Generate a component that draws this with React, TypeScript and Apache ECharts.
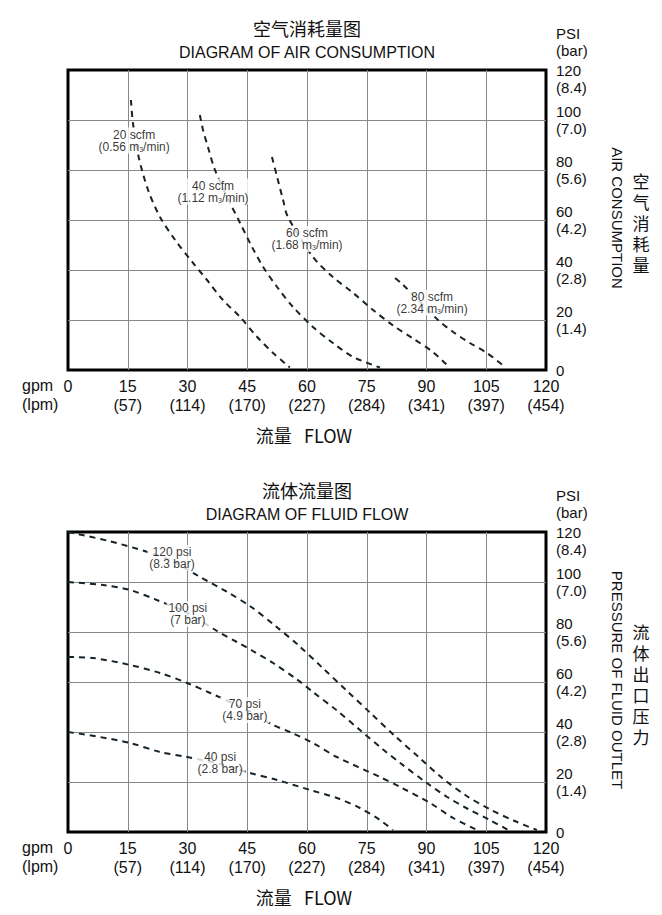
import React, { useEffect, useRef } from "react";
import * as echarts from "echarts";

// ---- tick labels ----
const gpmTicks = [0, 15, 30, 45, 60, 75, 90, 105, 120];
const lpmTicks = ["", "(57)", "(114)", "(170)", "(227)", "(284)", "(341)", "(397)", "(454)"];
const psiTicks = [0, 20, 40, 60, 80, 100, 120];
const barTicks = ["", "(1.4)", "(2.8)", "(4.2)", "(5.6)", "(7.0)", "(8.4)"];

// ---- air consumption curves [gpm, psi] ----
const air20 = [[15.8, 108], [16.3, 98.8], [17.8, 84.8], [20.1, 72], [23.1, 61.2], [26.9, 52], [31.4, 42.8], [34.9, 36], [38.9, 28], [43.2, 21.2], [47.5, 13.2], [51.5, 6.8], [55.7, 1]];
const air40 = [[33.1, 102], [33.9, 96], [35.2, 88.8], [36.9, 80], [40.7, 66.8], [43.2, 58.8], [46.2, 49.2], [49.0, 41.2], [52.5, 33.2], [56.5, 25.2], [61.5, 17.2], [66.5, 10.8], [71.6, 5.2], [78.3, 1]];
const air60 = [[51.2, 85.2], [52.5, 77.2], [54.0, 68], [55.2, 61.2], [61.5, 45.2], [66.5, 37.2], [71.6, 30.8], [76.6, 24], [81.6, 17.8], [86.6, 12.6], [91.6, 7.2], [95.4, 1.6]];
const air80 = [[82.1, 36.8], [83.9, 34.4], [88.5, 27], [92.9, 20], [96.7, 15.2], [100.9, 10.8], [105.2, 6.8], [109.7, 1.2]];
const airLabelNames = ["20 scfm", "40 scfm", "60 scfm", "80 scfm"];
const airLabelM3 = ["0.56", "1.12", "1.68", "2.34"];
const airLabelPos = [[16.6, 91.8], [36.4, 71.4], [60, 52.4], [91.4, 27]];

// ---- fluid flow curves [gpm, psi] ----
const fluid120 = [[0, 120], [10, 116.5], [20, 112], [26, 108.5], [32.6, 102.5], [40, 96], [46, 90], [52, 82.5], [58, 74.5], [64, 65.5], [70, 56.5], [76, 47.5], [82, 38.5], [88, 30], [94, 21.5], [100, 14.5], [106, 9], [112, 4.5], [117.7, 0.8]];
const fluid100 = [[0, 100], [8.8, 98.8], [15.6, 96.8], [22.3, 92.8], [30.1, 87.5], [37.4, 80.4], [42.4, 76], [46.4, 72.4], [51.5, 67.6], [57.5, 61], [61.5, 56], [67.5, 48.6], [73.3, 40.8], [79.1, 33], [83.4, 27.6], [90.1, 19.6], [95.2, 14], [100.2, 9.4], [105.9, 4.8], [110.5, 0.8]];
const fluid70 = [[0, 70], [6.3, 69.6], [15.6, 66.8], [23.1, 63.6], [29.9, 59.6], [35.7, 55.6], [44.4, 49.2], [51.5, 42.8], [55.7, 40], [61.5, 35.6], [67.5, 30], [78.3, 22], [83.4, 18], [90.9, 11.6], [96.7, 5.6], [102.7, 0.8]];
const fluid40 = [[0, 40], [8.0, 38], [15.6, 35.6], [23.1, 32], [29.9, 30], [38.2, 27.2], [45.7, 23.6], [52.5, 20.8], [60.8, 16.8], [67.5, 13.6], [73.3, 9.6], [78.3, 4.8], [81.6, 0.8]];
const fluidLabelNames = ["120 psi", "100 psi", "70 psi", "40 psi"];
const fluidLabelBar = ["(8.3 bar)", "(7 bar)", "(4.9 bar)", "(2.8 bar)"];
const fluidLabelPos = [[26.1, 109.6], [30.1, 87.2], [44.4, 48.8], [38.2, 27.6]];

const FONT = "'Liberation Sans', Arial, Helvetica, 'Noto Sans CJK SC', sans-serif";
const CJK = "'Noto Sans CJK SC', 'Liberation Sans', sans-serif";
const INK = "#111";
const CURVE = "#15232a";
const GRID_TOPS = [70, 532];
const GRID_LEFT = 68;
const GRID_W = 478;
const GRID_H = 300;

function xAxis(gridIndex: number) {
  return {
    type: "value",
    gridIndex,
    min: 0,
    max: 120,
    interval: 15,
    axisLine: { show: false },
    axisTick: { show: false },
    splitLine: { show: true, showMinLine: false, showMaxLine: false, lineStyle: { color: "#888", width: 1 } },
    axisLabel: {
      margin: 7,
      fontSize: 16,
      lineHeight: 19,
      color: INK,
      fontFamily: FONT,
      formatter: (v: number) => {
        const i = gpmTicks.indexOf(v);
        const l = i >= 0 ? lpmTicks[i] : "";
        return l ? `${v}\n${l}` : `${v}\n `;
      },
    },
  };
}

function yAxis(gridIndex: number) {
  return {
    type: "value",
    gridIndex,
    position: "right",
    min: 0,
    max: 120,
    interval: 20,
    axisLine: { show: false },
    axisTick: { show: false },
    splitLine: { show: true, showMinLine: false, showMaxLine: false, lineStyle: { color: "#888", width: 1 } },
    axisLabel: {
      margin: 10,
      fontSize: 15,
      lineHeight: 17,
      color: INK,
      fontFamily: FONT,
      formatter: (v: number) => {
        const i = psiTicks.indexOf(v);
        const b = i >= 0 ? barTicks[i] : "";
        if (!b) return `${v}`;
        if (v === 120) return `\n${v}\n${b}`;
        return `${v}\n${b}`;
      },
    },
  };
}

function curve(data: number[][], idx: number) {
  return {
    type: "line",
    xAxisIndex: idx,
    yAxisIndex: idx,
    data,
    symbol: "none",
    showSymbol: false,
    smooth: 0.3,
    silent: true,
    z: 2,
    lineStyle: { color: CURVE, width: 2, type: [6, 5] },
  };
}

function txt(text: string, x: number, y: number, size: number, opts: any = {}) {
  return {
    type: "text",
    x,
    y,
    rotation: opts.rotation || 0,
    style: {
      text,
      fill: INK,
      fontSize: size,
      fontFamily: opts.cjk ? CJK : FONT,
      align: opts.align || "center",
      verticalAlign: "middle",
      lineHeight: opts.lineHeight,
    },
  };
}

export default function App() {
  const ref = useRef<HTMLDivElement>(null);
  useEffect(() => {
    if (!ref.current) return;
    const chart = echarts.init(ref.current, undefined, { renderer: "svg" });

    const labelStyle = {
      show: true,
      position: "inside",
      fontSize: 12,
      lineHeight: 12,
      color: "#000",
      textBorderWidth: 0,
      textBorderColor: "transparent",
      fontFamily: FONT,
      backgroundColor: "#fff",
      padding: [1, 2, 1, 2],
      rich: { s: { fontSize: 7, lineHeight: 12, verticalAlign: "bottom", color: "#000", textBorderWidth: 0 } },
    };

    const graphics: any[] = [];
    const titlesCn = ["空气消耗量图", "流体流量图"];
    const titlesEn = ["DIAGRAM OF AIR CONSUMPTION", "DIAGRAM OF FLUID FLOW"];
    const sideEn = ["AIR CONSUMPTION", "PRESSURE OF FLUID OUTLET"];
    const sideCn = ["空气消耗量", "流体出口压力"];
    GRID_TOPS.forEach((top, i) => {
      const cx = GRID_LEFT + GRID_W / 2;
      graphics.push(txt(titlesCn[i], cx, top - 42, 18, { cjk: true }));
      graphics.push(txt(titlesEn[i], cx, top - 18, 16));
      graphics.push(txt("PSI", 556, top - 37, 15, { align: "left" }));
      graphics.push(txt("(bar)", 556, top - 20, 15, { align: "left" }));
      graphics.push(txt(sideEn[i], 617, top + 148, 15, { rotation: -Math.PI / 2 }));
      const chars = sideCn[i].split("");
      const y0 = top + 152 - ((chars.length - 1) * 21) / 2;
      chars.forEach((c, k) => graphics.push(txt(c, 641, y0 + k * 21, 17, { cjk: true })));
      graphics.push(txt("gpm", 22, top + GRID_H + 15, 16, { align: "left" }));
      graphics.push(txt("(lpm)", 22, top + GRID_H + 34, 16, { align: "left" }));
      graphics.push(txt("流量   FLOW", cx - 3, top + GRID_H + 65, 18, { cjk: true }));
    });

    const option: any = {
      animation: false,
      backgroundColor: "#fff",
      grid: GRID_TOPS.map((top) => ({
        left: GRID_LEFT,
        top,
        width: GRID_W,
        height: GRID_H,
        show: true,
        borderColor: "#000",
        borderWidth: 3,
        backgroundColor: "transparent",
        containLabel: false,
      })),
      xAxis: [xAxis(0), xAxis(1)],
      yAxis: [yAxis(0), yAxis(1)],
      graphic: graphics,
      series: [
        curve(air20, 0),
        curve(air40, 0),
        curve(air60, 0),
        curve(air80, 0),
        {
          type: "scatter",
          xAxisIndex: 0,
          yAxisIndex: 0,
          symbolSize: 0,
          silent: true,
          z: 5,
          itemStyle: { color: "#000" },
          data: airLabelPos.map((p, i) => ({ value: p, name: airLabelNames[i] })),
          label: {
            ...labelStyle,
            formatter: (p: any) => `${airLabelNames[p.dataIndex]}\n(${airLabelM3[p.dataIndex]} m{s|3}/min)`,
          },
        },
        curve(fluid120, 1),
        curve(fluid100, 1),
        curve(fluid70, 1),
        curve(fluid40, 1),
        {
          type: "scatter",
          xAxisIndex: 1,
          yAxisIndex: 1,
          symbolSize: 0,
          silent: true,
          z: 5,
          itemStyle: { color: "#000" },
          data: fluidLabelPos.map((p, i) => ({ value: p, name: fluidLabelNames[i] })),
          label: {
            ...labelStyle,
            formatter: (p: any) => `${fluidLabelNames[p.dataIndex]}\n${fluidLabelBar[p.dataIndex]}`,
          },
        },
      ],
    };
    chart.setOption(option);
    return () => chart.dispose();
  }, []);
  return (
    <div
      ref={ref}
      style={{ position: "absolute", left: 0, top: 0, width: 662, height: 915, background: "#fff" }}
    />
  );
}
